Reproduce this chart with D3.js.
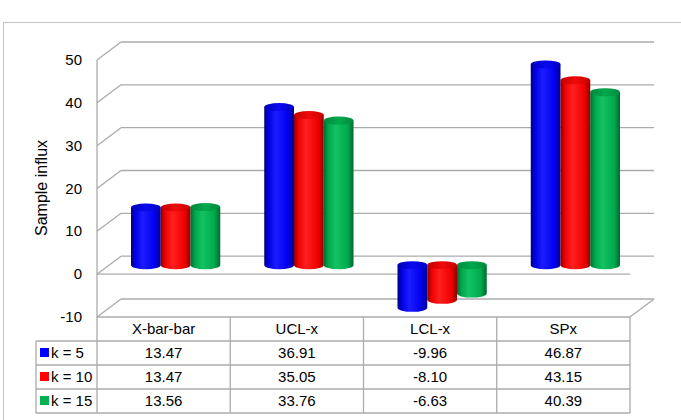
<!DOCTYPE html>
<html>
<head>
<meta charset="utf-8">
<script src="https://cdn.jsdelivr.net/npm/d3@7"></script>
<style>
  body { margin: 0; background: #fff; }
  text { font-family: "Liberation Sans", Arial, sans-serif; fill: #000; }
</style>
</head>
<body>
<svg id="chart" width="681" height="420"></svg>
<script>
// Data
const categories = ['X-bar-bar', 'UCL-x', 'LCL-x', 'SPx']
const seriesNames = ['k = 5', 'k = 10', 'k = 15']
const k5 = [13.47, 36.91, -9.96, 46.87]
const k10 = [13.47, 35.05, -8.10, 43.15]
const k15 = [13.56, 33.76, -6.63, 40.39]
const yTicks = [-10, 0, 10, 20, 30, 40, 50]
const colors = ['#0000ff', '#ff0000', '#00b050']

const series = [k5, k10, k15]

const svg = d3.select('#chart')

// 3D depth offset of the back wall
const depthX = 24
const depthY = -18

const x = d3.scaleBand().domain(categories).range([97, 630])
const inner = d3.scaleBand().domain(seriesNames).range([22, x.bandwidth() - 22])
const y = d3.scaleLinear().domain([-10, 50]).range([317, 60])

const gridColor = '#ababab'
const fontSize = 15

// outer frame
svg.append('rect')
  .attr('x', 3.5).attr('y', 22.5)
  .attr('width', 720).attr('height', 500)
  .attr('fill', 'none').attr('stroke', '#c4c4c4')

// gradients for cylinders
const defs = svg.append('defs')
const shades = [
  ['#00007e', '#0000e8', '#1c1cff', '#0000f0', '#000088'],
  ['#8c0000', '#ee0000', '#ff2020', '#f00000', '#900000'],
  ['#006a30', '#00a64b', '#12c262', '#00aa4d', '#006830']
]
const caps = [
  ['#0000b8', '#0a0af0', '#0000c8'],
  ['#c00000', '#f00a0a', '#c80000'],
  ['#00883e', '#00a84c', '#008a40']
]
shades.forEach((s, i) => {
  const g = defs.append('linearGradient').attr('id', 'body' + i)
  ;[0, 0.15, 0.4, 0.8, 1].forEach((o, j) => g.append('stop').attr('offset', o).attr('stop-color', s[j]))
  const c = defs.append('linearGradient').attr('id', 'cap' + i)
  ;[0, 0.5, 1].forEach((o, j) => c.append('stop').attr('offset', o).attr('stop-color', caps[i][j]))
})

// back wall gridlines and left wall diagonals
const grid = svg.append('g').attr('stroke', gridColor).attr('stroke-width', 1.3).attr('fill', 'none')
const x0 = x.range()[0]
const x1 = x.range()[1]
yTicks.forEach(t => {
  grid.append('line')
    .attr('x1', x0 + depthX).attr('x2', x1 + depthX)
    .attr('y1', y(t) + depthY).attr('y2', y(t) + depthY)
  grid.append('line')
    .attr('x1', x0).attr('y1', y(t))
    .attr('x2', x0 + depthX).attr('y2', y(t) + depthY)
})
// floor right edge
grid.append('line').attr('x1', x1).attr('y1', y(-10)).attr('x2', x1 + depthX).attr('y2', y(-10) + depthY)
// front zero line
grid.append('line').attr('x1', x0).attr('x2', x1).attr('y1', y(0)).attr('y2', y(0))
// vertical axis
grid.append('line').attr('x1', x0).attr('x2', x0).attr('y1', y(50)).attr('y2', y(-10))

// tick labels
svg.append('g').selectAll('text').data(yTicks).join('text')
  .attr('x', 82).attr('y', d => y(d) + 5)
  .attr('text-anchor', 'end').attr('font-size', fontSize)
  .text(d => d)

svg.append('text')
  .attr('transform', 'translate(47,188) rotate(-90)')
  .attr('text-anchor', 'middle').attr('font-size', 16)
  .text('Sample influx')

// cylinders at mid depth
const midX = depthX / 2
const midY = depthY / 2
const bars = svg.append('g')
categories.forEach((cat, ci) => {
  series.forEach((vals, si) => {
    const v = vals[ci]
    const w = inner.bandwidth()
    const left = x(cat) + inner(seriesNames[si]) + midX
    const rx = w / 2
    const ry = 4
    const yZero = y(0) + midY
    const yVal = y(v) + midY
    const yTop = Math.min(yZero, yVal)
    const yBot = Math.max(yZero, yVal)
    bars.append('path')
      .attr('d', `M${left},${yTop} L${left},${yBot} A${rx},${ry} 0 0 0 ${left + w},${yBot} L${left + w},${yTop} Z`)
      .attr('fill', `url(#body${si})`)
    bars.append('ellipse')
      .attr('cx', left + rx).attr('cy', yTop)
      .attr('rx', rx).attr('ry', ry)
      .attr('fill', `url(#cap${si})`)
  })
})

// data table
const table = svg.append('g')
const rowH = 24
const tableTop = y(-10)
const legendLeft = 36
const lines = table.append('g').attr('stroke', gridColor).attr('stroke-width', 1.3)
lines.append('line').attr('x1', x0).attr('x2', x1).attr('y1', tableTop).attr('y2', tableTop)
seriesNames.forEach((s, i) => {
  const yy = tableTop + rowH * (i + 1)
  lines.append('line').attr('x1', legendLeft).attr('x2', x1).attr('y1', yy).attr('y2', yy)
})
const tableBottom = tableTop + rowH * (seriesNames.length + 1)
lines.append('line').attr('x1', legendLeft).attr('x2', x1).attr('y1', tableBottom).attr('y2', tableBottom)
categories.forEach(c => {
  lines.append('line').attr('x1', x(c)).attr('x2', x(c)).attr('y1', tableTop).attr('y2', tableBottom)
})
lines.append('line').attr('x1', x1).attr('x2', x1).attr('y1', tableTop).attr('y2', tableBottom)
lines.append('line').attr('x1', legendLeft).attr('x2', legendLeft).attr('y1', tableTop + rowH).attr('y2', tableBottom)

// header
table.selectAll('.head').data(categories).join('text')
  .attr('class', 'head')
  .attr('x', d => x(d) + x.bandwidth() / 2)
  .attr('y', tableTop + rowH / 2 + 5)
  .attr('text-anchor', 'middle').attr('font-size', fontSize)
  .text(d => d)

series.forEach((vals, si) => {
  const yy = tableTop + rowH * (si + 1)
  table.append('rect')
    .attr('x', 40).attr('y', yy + rowH / 2 - 5)
    .attr('width', 9).attr('height', 9)
    .attr('fill', colors[si])
  table.append('text')
    .attr('x', 51).attr('y', yy + rowH / 2 + 5)
    .attr('font-size', fontSize)
    .text(seriesNames[si])
  table.selectAll('.v' + si).data(vals).join('text')
    .attr('x', (d, i) => x(categories[i]) + x.bandwidth() / 2)
    .attr('y', yy + rowH / 2 + 5)
    .attr('text-anchor', 'middle').attr('font-size', fontSize)
    .text(d => d.toFixed(2))
})
</script>
</body>
</html>
